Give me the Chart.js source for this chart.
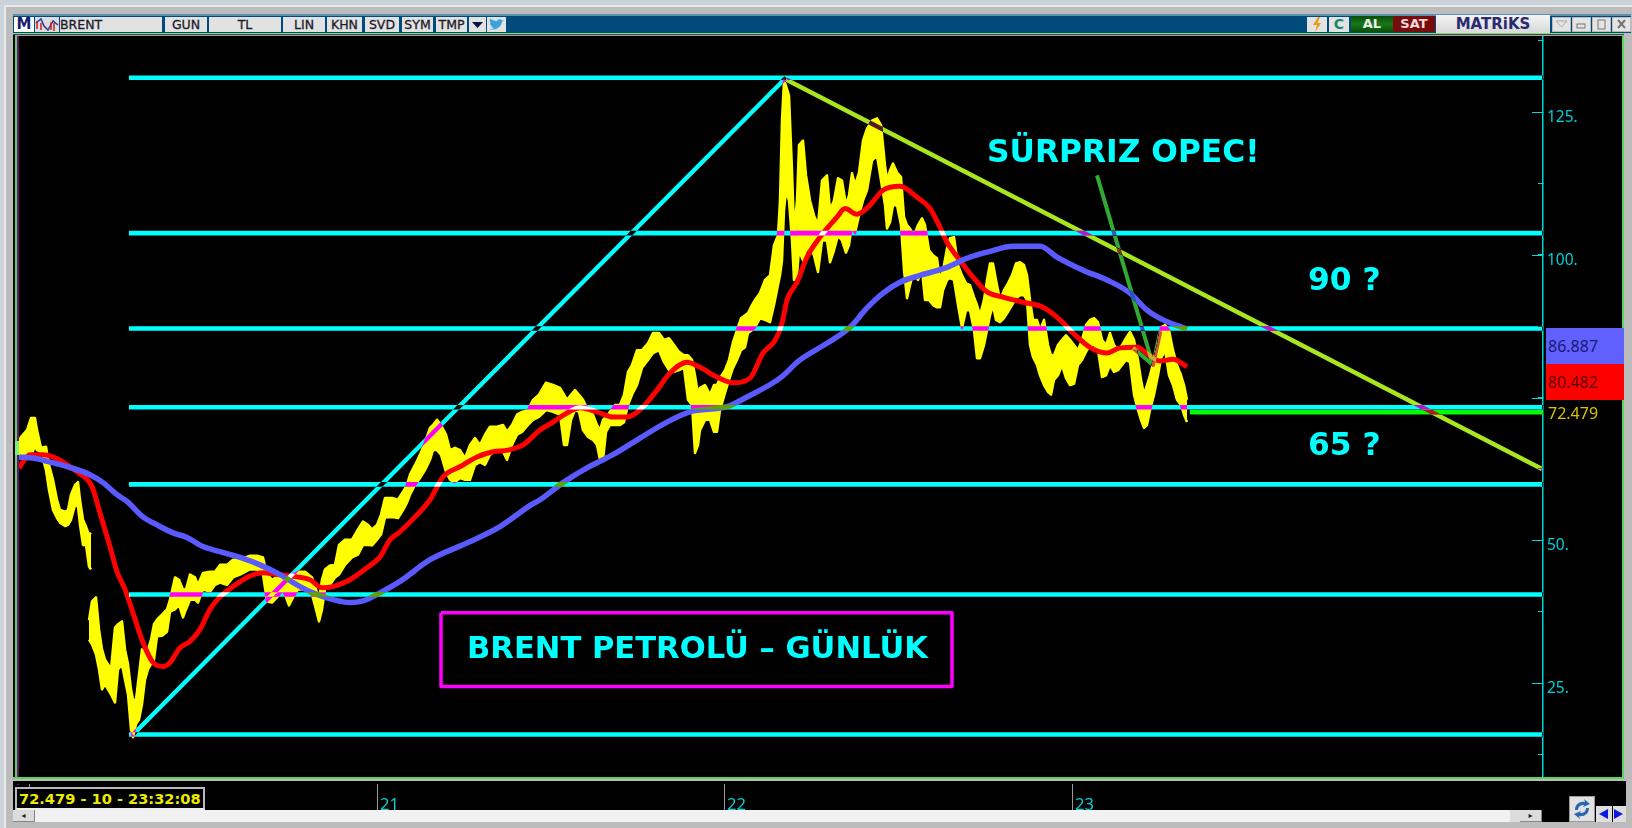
<!DOCTYPE html>
<html><head><meta charset="utf-8">
<script src="https://cdn.jsdelivr.net/npm/chart.js@4/dist/chart.umd.min.js"></script>
<style>
html,body{margin:0;padding:0;width:1632px;height:828px;overflow:hidden;background:#c9d3d9}
.a{position:absolute;box-sizing:border-box}
.b{position:absolute;top:17px;height:15px;background:#e2e2e2;color:#1c1c2c;font:12.5px/15px "DejaVu Sans";text-align:center;-webkit-text-stroke:.3px #1c1c2c;white-space:nowrap}
.v{position:absolute;left:1546px;width:76px;height:36px;font:16px/36px "Noto Sans";padding-left:2px;z-index:3}
.w{position:absolute;top:17px;width:19px;height:15px;background:#e4e4e4;border:1px solid #bbb;box-sizing:border-box}
#c{position:absolute;left:0;top:0;z-index:1}
</style></head><body>
<div class="a" style="left:4px;top:5px;width:1628px;height:823px;background:#bcbcbc;border-top:2px solid #e9e9e9;border-left:2px solid #e9e9e9"></div>
<div class="a" style="left:13px;top:14px;width:1618px;height:19px;background:#004a7c;border-top:2px solid #5a8fb0"></div>
<div class="a" style="left:14px;top:17px;width:20px;height:15px;background:#fff;color:#14206e;font:bold 15px/15px 'DejaVu Sans';text-align:center">M</div>
<svg class="a" style="left:35px;top:17px" width="24" height="15"><rect width="24" height="15" fill="#ddd"/><path d="M1 6 L6 2 L9 9 L13 13 L18 4 L23 8" stroke="#2a3a9a" stroke-width="1.5" fill="none"/><path d="M2 4V12M6 6V13M16 5V13M19 6V14" stroke="#c8202a" stroke-width="1.5"/></svg>
<div class="b" style="left:60px;width:102px;text-align:left">BRENT</div>
<div class="b" style="left:165px;width:42px">GUN</div>
<div class="b" style="left:209px;width:72px">TL</div>
<div class="b" style="left:283px;width:42px">LIN</div>
<div class="b" style="left:327px;width:35px">KHN</div>
<div class="b" style="left:365px;width:34px">SVD</div>
<div class="b" style="left:402px;width:31px">SYM</div>
<div class="b" style="left:436px;width:31px">TMP</div>
<svg class="a" style="left:469px;top:17px" width="17" height="15"><rect width="17" height="15" fill="#e2e2e2"/><path d="M3 5H14L8.5 11Z" fill="#0a1240"/></svg>
<svg class="a" style="left:487px;top:17px" width="19" height="15"><rect width="19" height="15" fill="#e2e2e2"/><path d="M2 12C7 14 14 11 15 5L17 3L15 3.4C14 2 11 1.6 10 4C7 4 5 3 3 1.6C2.4 4 3 5.5 4 6.4L2.8 6C3 8 4 9 5.6 9.4L4.4 9.6C5 10.6 6 11 7 11C5.6 12 3.6 12.2 2 12Z" fill="#3ba4dc"/></svg>
<div class="a" style="left:1307px;top:17px;width:20px;height:15px;background:#e2e2e2"></div>
<svg class="a" style="left:1311px;top:17px" width="12" height="15"><path d="M7 0L2 8H6L4 15L10 6H6.5L9 0Z" fill="#e89a1c"/></svg>
<div class="a" style="left:1329px;top:17px;width:20px;height:15px;background:#e2e2e2;color:#128a6c;font:bold 14px/15px 'DejaVu Sans';text-align:center">C</div>
<div class="a" style="left:1351px;top:16px;width:42px;height:16px;background:linear-gradient(#0a4c0a,#1a781a,#0a4c0a);color:#e8f4e8;font:bold 13px/16px 'DejaVu Sans';text-align:center">AL</div>
<div class="a" style="left:1393px;top:16px;width:42px;height:16px;background:#780c0c;color:#f2dada;font:bold 13px/16px 'DejaVu Sans';text-align:center">SAT</div>
<div class="a" style="left:1436px;top:15px;width:114px;height:18px;background:linear-gradient(#f4f4f4,#d8d8d8);color:#2a2a70;font:bold 15px/18px 'DejaVu Sans';text-align:center">MATRiKS</div>
<div class="w" style="left:1552px"></div><div class="w" style="left:1572px"></div><div class="w" style="left:1592px"></div><div class="w" style="left:1612px"></div>
<svg class="a" style="left:1552px;top:17px;z-index:2" width="79" height="15"><path d="M4 4H15L9.5 10Z" fill="none" stroke="#aaa"/><rect x="25" y="7" width="8" height="4" fill="none" stroke="#777"/><rect x="46" y="3" width="7" height="9" fill="none" stroke="#777"/><path d="M66 3L73 11M73 3L66 11" stroke="#777" stroke-width="2"/></svg>

<div class="a" style="left:13px;top:33px;width:1611px;height:746px;background:#000"></div>
<div class="a" style="left:13px;top:33px;width:1611px;height:1px;background:#7fdc7f;z-index:2"></div>
<div class="a" style="left:13px;top:34px;width:1611px;height:1px;background:#8a1a8a;z-index:2"></div>
<div class="a" style="left:15px;top:35px;width:1608px;height:1px;background:#58d858;z-index:2"></div>
<div class="a" style="left:15px;top:35px;width:2px;height:744px;background:#58d858;z-index:2"></div>
<div class="a" style="left:17px;top:36px;width:2px;height:749px;background:#6a0f7a;z-index:2"></div>
<div class="a" style="left:15px;top:441px;width:4px;height:14px;background:#80ee80;z-index:2"></div>
<div class="a" style="left:1622px;top:35px;width:2px;height:744px;background:#58d858;z-index:2"></div>
<div class="a" style="left:13px;top:777px;width:1611px;height:2px;background:#58d858;z-index:2"></div>
<div class="a" style="left:13px;top:779px;width:1613px;height:2px;background:#bcbcbc;z-index:2"></div>
<div class="a" style="left:13px;top:781px;width:1613px;height:3px;background:#000;z-index:2"></div>
<div class="a" style="left:13px;top:781px;width:1613px;height:41px;background:#000"></div>

<div class="v" style="top:328px;background:#6060ff;color:#1a1a70">86.887</div>
<div class="v" style="top:364px;background:#ff0000;color:#500000">80.482</div>
<div class="v" style="top:400px;height:26px;line-height:26px;color:#d8c400">72.479</div>

<div class="a" style="left:15px;top:787px;width:190px;height:23px;background:#000;border:2px solid #b8b8b8;border-bottom-color:#eee;color:#ecec00;font:bold 14.6px/19px 'DejaVu Sans';padding-left:2px;white-space:nowrap;z-index:3">72.479 - 10 - 23:32:08</div>
<div class="a" style="left:13px;top:810px;width:1529px;height:12px;background:#f1f1f1;z-index:2"></div>
<div class="a" style="left:13px;top:810px;width:22px;height:12px;background:#dcdcdc;border-right:1px solid #888;border-bottom:1px solid #888;color:#222;font:8px/11px 'DejaVu Sans';text-align:center;z-index:2">◂</div>
<div class="a" style="left:1510px;top:810px;width:10px;height:12px;background:#dcdcdc;z-index:2"></div>
<div class="a" style="left:1520px;top:810px;width:22px;height:12px;background:#dcdcdc;border-right:1px solid #888;border-bottom:1px solid #888;color:#222;font:8px/11px 'DejaVu Sans';text-align:center;z-index:2">▸</div>
<div class="a" style="left:1569px;top:796px;width:26px;height:26px;background:#e2e2e2;border:1px solid #999;z-index:2"></div>
<svg class="a" style="left:1569px;top:796px;z-index:3" width="26" height="26"><path d="M6 14C6 8 11 5 16 6L15 3L21 8L14 11L15 9C11 9 9 11 9 14Z" fill="#2a66b0"/><path d="M20 12C20 18 15 21 10 20L11 23L5 18L12 15L11 17C15 17 17 15 17 12Z" fill="#2a66b0"/></svg>
<div class="a" style="left:1596px;top:806px;width:16px;height:16px;background:#dedede;z-index:2"></div>
<div class="a" style="left:1613px;top:806px;width:13px;height:16px;background:#dedede;z-index:2"></div>
<svg class="a" style="left:1596px;top:806px;z-index:3" width="30" height="16"><path d="M12 3V13L3 8Z" fill="#0a1ae0"/><path d="M18 3V13L27 8Z" fill="#0a1ae0"/></svg>

<canvas id="c" width="1632" height="828"></canvas>
<script>
// ---- tick labels
const yTickValues = [137.5,125,112.5,100,87.5,75,62.5,50,37.5,25,12.5];
const yLabelled = [125,100,50,25];
const yLong = [125,100,75,50,25];
const yearTicks = [10,358,705,1053];
const yearLabels = ['','21','22','23'];
const axisMin = 8.55, axisMax = 138.32, sessionMax = 1524;

// ---- price, first leg (before the contract gap): session, high, low
const earlySessions = [0,3,8,12,16,18,22,27,30,34,38,41,46,49,52,56,59,61,64,67,70,72];
const earlyHigh = [67.6,68.3,69.3,71.4,71.4,69.3,66.2,66.4,63.2,60.6,57.1,55.3,55.0,55.3,58.0,59.7,60.2,57.1,53.6,52.4,51.0,51.3];
const earlyLow = [65.0,65.0,64.8,64.8,66.5,65.8,65.5,62.3,58.8,55.3,53.9,53.1,52.5,52.7,53.6,56.2,55.9,52.7,49.2,49.2,45.4,44.9];

// ---- price, main leg
const sessions = [70,73,77,80,83,86,89,92,96,99,103,106,109,112,114,117,120,123,126,129,132,135,138,143,148,151,156,160,164,167,171,176,179,184,191,196,201,208,214,221,231,238,244,248,253,258,264,270,274,279,286,293,297,300,303,306,311,316,320,326,333,339,344,349,353,358,362,366,373,379,384,388,391,396,401,406,411,414,418,422,427,431,436,441,446,451,456,461,466,471,478,484,488,493,498,503,509,514,520,527,534,541,545,548,552,556,560,564,569,574,578,581,584,587,591,596,601,605,609,613,618,623,629,634,640,645,650,655,660,665,669,673,676,679,681,686,691,695,698,701,706,710,714,718,722,726,729,733,736,741,746,751,755,759,761,763,765,767,770,773,775,778,780,784,787,791,795,799,803,808,811,815,819,823,827,830,833,836,840,844,848,853,858,862,866,868,871,874,878,882,885,888,891,895,899,903,906,910,914,918,921,924,928,931,935,939,943,947,951,955,958,961,965,968,971,974,977,981,985,989,993,997,1001,1005,1008,1011,1014,1018,1021,1025,1029,1032,1035,1039,1043,1047,1051,1055,1059,1063,1067,1071,1075,1079,1083,1087,1091,1095,1099,1103,1107,1111,1115,1119,1122,1125,1128,1131,1135,1139,1142,1146,1150,1154,1158,1162,1165,1168];
const priceHigh = [36.0,39.3,40.0,34.4,30.9,29.1,28.3,27.4,34.7,35.3,35.8,30.9,28.3,23.9,22.1,22.1,26.5,30.9,30.0,30.9,32.6,35.3,36.1,37.0,37.9,39.6,43.5,43.1,41.4,41.4,44.0,43.5,42.2,44.3,44.5,44.5,45.7,45.7,46.6,46.6,47.3,47.3,47.0,44.0,43.1,43.6,44.0,42.2,44.0,44.5,44.5,43.5,41.4,39.6,43.1,44.9,45.6,45.7,49.2,50.1,50.1,51.9,53.3,52.7,51.9,52.7,54.5,57.4,57.4,57.1,58.5,59.7,61.5,63.2,65.0,67.2,69.7,70.2,71.1,70.2,68.5,65.8,66.2,65.8,64.4,66.7,67.9,66.7,68.5,69.9,69.9,70.2,69.0,70.2,72.0,72.5,72.8,74.6,75.5,77.6,77.2,76.7,75.5,74.6,75.5,76.3,75.5,74.6,72.8,72.0,70.2,69.3,71.1,71.6,72.5,73.7,73.7,75.5,79.5,80.7,83.3,83.3,84.5,86.3,86.3,85.1,85.4,84.2,83.0,82.4,82.4,81.6,78.9,75.5,76.7,77.2,75.5,77.2,77.2,78.4,79.8,81.6,84.7,86.8,88.9,89.4,89.8,91.2,92.1,93.3,95.6,96.4,101.7,103.4,109.5,123.5,130.5,129.6,127.9,114.8,104.3,109.5,119.2,120.0,113.9,109.5,106.9,105.2,113.0,113.9,107.8,109.5,113.4,113.0,108.7,110.4,114.3,112.2,114.4,120.0,122.1,123.5,123.9,122.7,115.7,113.0,114.8,116.0,114.4,113.6,106.6,105.2,104.6,103.4,105.2,106.4,105.2,100.8,99.9,99.4,95.6,97.3,101.1,102.9,103.1,98.2,96.4,95.0,94.7,92.6,91.2,89.4,92.1,95.6,98.5,98.5,95.6,92.1,93.8,95.0,96.4,98.5,98.7,98.2,96.4,92.1,88.6,88.6,86.8,88.6,84.2,82.4,82.4,84.2,85.1,85.9,85.1,84.2,83.3,85.1,87.7,88.6,88.9,88.2,85.1,84.2,86.3,84.2,83.3,84.2,85.4,86.5,85.1,81.6,78.1,75.5,77.2,78.9,81.6,84.2,87.3,87.7,86.8,83.3,80.7,78.9,77.2,74.6];
const priceLow = [32.6,31.8,30.0,27.4,23.9,24.8,23.9,23.0,21.6,27.4,28.3,25.6,23.0,16.9,15.5,17.8,18.6,21.3,25.6,27.4,28.3,29.1,33.2,33.3,34.0,37.5,37.9,38.7,36.5,37.9,39.6,39.6,39.1,41.4,41.0,42.2,42.6,42.2,43.5,44.0,44.9,44.9,44.0,39.3,39.1,40.0,41.4,38.6,40.0,41.4,41.4,40.5,37.9,35.8,37.9,41.4,42.2,43.5,44.0,45.7,47.0,47.5,49.2,49.2,49.1,50.1,51.0,54.0,54.1,53.9,55.3,56.6,58.0,59.7,60.9,62.3,64.1,65.8,65.8,65.0,62.0,60.6,60.2,60.9,60.6,60.6,63.2,63.7,63.2,65.0,65.8,65.5,64.1,66.7,68.5,69.0,70.2,71.1,71.6,72.8,72.5,72.0,66.7,66.7,71.1,72.8,72.5,69.3,68.1,67.6,66.7,64.1,64.1,69.0,70.2,70.2,70.2,70.7,73.7,75.5,77.2,80.2,81.6,82.8,83.3,81.2,79.8,79.5,79.8,80.2,74.6,73.7,65.3,66.7,69.3,71.1,71.1,69.0,69.0,72.8,75.8,78.1,80.2,81.6,83.3,83.8,86.3,86.8,87.3,88.9,88.6,88.2,91.2,94.7,96.4,99.0,107.8,111.3,109.5,102.5,95.6,96.4,100.8,99.0,100.8,101.3,99.9,97.0,102.5,102.5,98.7,100.8,103.4,102.5,100.4,101.7,105.2,103.8,106.9,109.5,111.3,116.5,117.4,113.0,108.7,104.6,105.7,108.7,108.7,105.2,97.3,92.4,94.7,97.3,95.6,97.3,92.1,92.1,91.2,90.8,90.8,93.8,95.6,95.9,95.6,91.2,87.2,90.3,90.3,86.8,81.9,81.9,84.2,86.8,89.4,91.2,88.6,88.2,88.9,90.0,91.2,92.4,92.9,92.9,92.1,84.2,82.1,80.7,78.9,77.2,76.0,75.5,78.1,78.9,80.7,78.4,77.2,77.4,80.7,81.6,83.0,84.2,84.2,83.3,78.6,78.9,80.7,79.5,79.8,80.7,81.6,81.2,75.5,72.8,71.1,69.7,70.2,72.8,75.5,78.9,81.9,83.3,78.9,77.2,74.6,73.7,72.0,70.7];

// ---- fast average (red)
const fastSessions = [0,11,24,34,44,58,73,81,91,98,106,114,124,134,144,151,161,171,181,191,201,214,228,244,258,278,291,303,314,331,348,361,371,381,396,411,424,441,458,474,489,504,521,534,548,561,578,594,608,624,638,651,668,681,698,714,731,744,756,763,768,778,788,801,818,826,838,851,864,881,898,911,921,928,941,954,968,984,1004,1024,1041,1054,1071,1088,1101,1118,1131,1141,1154,1168];
const fastValues = [62.7,65.0,65.0,64.6,63.7,62.0,59.4,54.8,48.9,44.5,41.4,37.3,32.1,28.6,27.9,28.6,31.2,32.3,34.4,37.9,40.1,41.9,43.5,44.3,44.0,43.6,43.1,41.7,41.9,43.1,45.2,47.1,50.1,51.5,54.1,57.1,61.1,62.9,64.6,65.5,65.8,66.7,69.3,70.7,72.3,73.2,72.5,71.6,71.6,73.4,76.3,79.3,81.2,80.3,78.6,77.6,78.4,82.8,85.0,88.0,92.1,95.2,99.6,103.1,106.6,108.1,107.1,108.7,111.3,112.0,110.1,108.1,104.8,102.2,99.0,96.1,93.5,92.6,91.7,90.8,88.6,86.3,83.8,82.8,83.7,83.8,82.3,81.4,81.7,80.4];

// ---- slow average (blue)
const slowSessions = [0,14,31,48,71,84,98,108,124,138,154,168,184,201,221,241,261,281,298,314,331,344,361,381,411,449,481,512,521,544,568,594,621,648,671,708,728,761,781,808,831,848,864,881,901,928,948,971,994,1021,1038,1064,1088,1111,1128,1144,1168];
const slowValues = [64.6,64.4,63.7,62.9,61.5,60.1,58.0,56.8,54.1,52.7,51.3,50.5,48.9,48.0,47.0,45.7,44.0,41.9,40.5,39.6,39.1,39.4,40.8,42.8,46.6,49.6,52.4,56.2,57.1,60.1,62.7,65.0,67.9,70.7,72.5,73.4,75.1,78.4,81.6,84.5,87.3,90.7,93.3,95.2,96.4,97.8,99.4,100.6,101.5,101.5,99.6,97.3,95.6,93.3,90.3,88.6,87.0];

// ---- drawn levels and trend lines
const fibLevels = [131.0,103.8,87.1,73.3,59.8,40.5,16.0];
const fibStartSession = 110;
const lastPrice = 72.479, lastPriceStart = 1171;
const riseSessions = [114,767], riseValues = [16.0,131.0];
const fallSessions = [767,1523], fallValues = [130.7,62.5];
const arrowSessions = [1078,1134,1141,1134,1114], arrowValues = [113.9,80.7,86.3,80.7,83.7];
const boxSessions = [422,933,933,422,422], boxValues = [37.3,37.3,24.4,24.4,37.3];

// ---- text on the chart
const noteTexts = ['SÜRPRIZ OPEC!','90 ?','65 ?','BRENT PETROLÜ – GÜNLÜK'];
const noteSessions = [968,1289,1289,448];
const noteValues = [117.6,95.3,66.4,30.8];
const noteSizes = [31.3,31.3,31.3,30.6];

const pts = (xs,ys) => xs.map((x,i)=>({x,y:ys[i]}));
const line = (data,color,width,order,xor) => ({type:'line',data,borderColor:color,borderWidth:width,pointRadius:0,tension:0,fill:false,order,xor,borderJoinStyle:'round',borderCapStyle:'butt'});
const band = (data,fill,order) => ({type:'line',data,borderColor:'#ffff00',backgroundColor:'#ffff00',borderWidth:2.5,pointRadius:0,tension:0,fill,order,borderJoinStyle:'round'});
const smooth = d => Object.assign(d,{cubicInterpolationMode:'monotone'});

const datasets = [
  band(pts(earlySessions,earlyHigh),'+1',100),
  band(pts(earlySessions,earlyLow),false,99),
  band(pts(sessions,priceHigh),'+1',98),
  band(pts(sessions,priceLow),false,97),
  smooth(line(pts(fastSessions,fastValues),'#ff0000',5,96,false)),
  smooth(line(pts(slowSessions,slowValues),'#5a5aff',5.5,95,false)),
  line(pts([lastPriceStart,sessionMax],[lastPrice,lastPrice]),'#00ff00',5,94,false),
  ...fibLevels.map((v,i)=>line(pts([fibStartSession,sessionMax],[v,v]),'#00ffff',4.6,80-i,true)),
  line(pts(riseSessions,riseValues),'#00ffff',4.4,60,true),
  line(pts(fallSessions,fallValues),'#aae61e',4.4,59,true),
  line(pts(arrowSessions,arrowValues),'#32aa32',4,58,true),
  line(pts(boxSessions,boxValues),'#ff00ff',3.5,57,false),
];

const rasterLook = {
  id:'rasterLook',
  beforeDraw(chart){
    const {ctx,chartArea:a}=chart; ctx.save(); ctx.fillStyle='#000';
    ctx.fillRect(a.left,a.top,a.right-a.left,a.bottom-a.top); ctx.restore();
  },
  beforeDatasetDraw(chart,args){ if(chart.data.datasets[args.index].xor) chart.ctx.globalCompositeOperation='difference'; },
  afterDatasetDraw(chart){ chart.ctx.globalCompositeOperation='source-over'; },
  afterDraw(chart){
    const {ctx,scales:{x,y}}=chart; ctx.save();
    ctx.strokeStyle='#00d8d8'; ctx.lineWidth=1;
    yLong.forEach(v=>{const p=Math.round(y.getPixelForValue(v))+.5; ctx.beginPath(); ctx.moveTo(y.left,p); ctx.lineTo(y.left-11,p); ctx.stroke();});
    ctx.fillStyle='#00ffff'; ctx.textAlign='left'; ctx.textBaseline='middle';
    noteTexts.forEach((t,i)=>{ctx.font='bold '+noteSizes[i]+'px "DejaVu Sans"'; ctx.fillText(t,x.getPixelForValue(noteSessions[i]),y.getPixelForValue(noteValues[i]));});
    ctx.restore();
  }
};

new Chart(document.getElementById('c'),{
  type:'line',
  data:{datasets},
  plugins:[rasterLook],
  options:{
    responsive:false,animation:false,events:[],
    layout:{padding:{left:19,top:36,right:10,bottom:18}},
    plugins:{legend:{display:false},tooltip:{enabled:false},title:{display:false}},
    scales:{
      x:{type:'linear',min:0,max:sessionMax,position:'bottom',
        afterBuildTicks(s){s.ticks=yearTicks.map(value=>({value}));},
        afterFit(s){s.height=33;s.paddingLeft=0;s.paddingRight=0;},
        border:{display:false},
        grid:{drawOnChartArea:false,drawTicks:true,tickLength:33,tickColor:'#9a9a9a',tickWidth:1},
        ticks:{autoSkip:false,maxRotation:0,align:'start',padding:-15,labelOffset:3,color:'#00d0d8',font:{family:'"Noto Sans"',size:16.5},
          callback(v){const i=yearTicks.indexOf(v);return i<0?'':yearLabels[i];}}
      },
      y:{type:'linear',min:axisMin,max:axisMax,position:'right',
        afterBuildTicks(s){s.ticks=yTickValues.map(value=>({value}));},
        afterFit(s){s.width=79;},
        border:{display:true,color:'#00d8d8',width:1.5},
        grid:{drawOnChartArea:false,drawTicks:true,tickLength:-5,tickColor:'#00d8d8',tickWidth:1},
        ticks:{autoSkip:false,padding:9,labelOffset:5.5,color:'#00d0d8',font:{family:'"Noto Sans"',size:15.5},
          callback(v){return yLabelled.includes(v)?v+'.':'';}}
      }
    }
  }
});
</script>
</body></html>
